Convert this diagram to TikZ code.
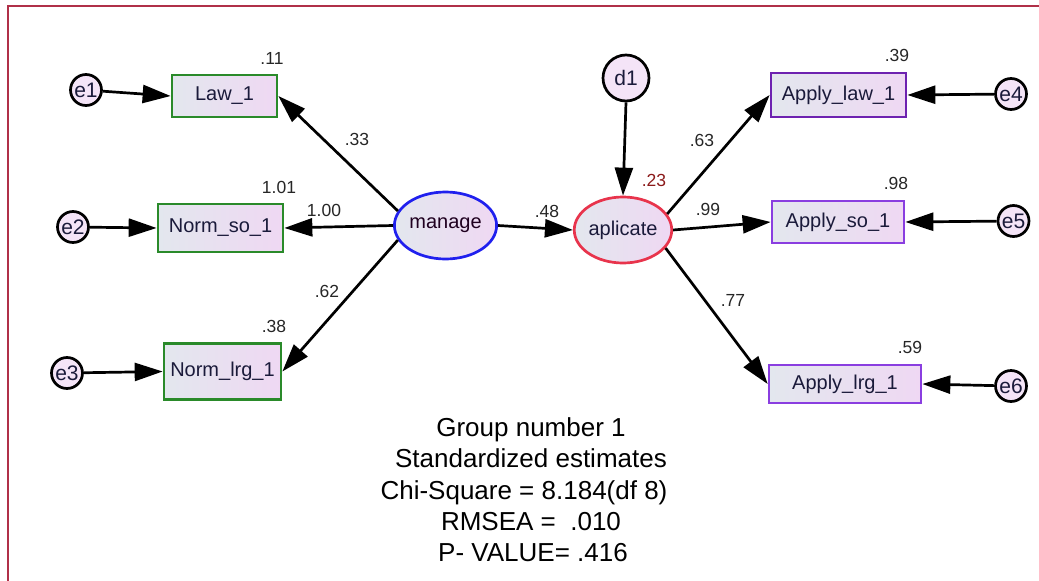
\documentclass[tikz,border=0pt]{standalone}
\usepackage{fontspec}
\setmainfont{Liberation Sans}
\usetikzlibrary{arrows.meta,positioning,shapes.geometric,shadings}
\definecolor{framecol}{HTML}{B03048}
\definecolor{obsgreen}{HTML}{2A8A2A}
\definecolor{latblue}{HTML}{2020EE}
\definecolor{latred}{HTML}{E8344C}
\definecolor{obspurple}{HTML}{6E22B0}
\definecolor{obsviolet}{HTML}{8A3EE0}
\definecolor{fillL}{HTML}{E3E7EE}
\definecolor{fillR}{HTML}{EFD8F3}
\definecolor{txtcol}{HTML}{1A1A3A}
\definecolor{rsqred}{HTML}{8B1A1A}
\tikzset{every picture/.style={line width=2.7pt}}
\tikzstyle{obs}=[rectangle,draw,left color=fillL,right color=fillR,text=txtcol,inner sep=0pt,font=\fontsize{20}{22}\selectfont]
\tikzstyle{lat}=[ellipse,draw,left color=fillL,right color=fillR,text=txtcol,inner sep=0pt,minimum width=90pt,minimum height=66pt,font=\fontsize{20}{22}\selectfont]
\tikzstyle{err}=[circle,draw=black,fill=fillR!70!white,text=txtcol,inner sep=0pt,minimum size=31pt,font=\fontsize{21}{22}\selectfont]
\tikzstyle{est}=[inner sep=0pt,text=black!85,font=\fontsize{17.5}{18}\selectfont]
\tikzstyle{fitline}=[inner sep=0pt,anchor=base,font=\fontsize{26}{31}\selectfont]

\begin{document}
\begin{tikzpicture}[x=1pt,y=-1pt]
\useasboundingbox (0,0) rectangle (1039,581);
\draw[framecol,line width=1.5pt] (8,581) -- (8,6) -- (1039,6);
% left side
\node[obs,draw=obsgreen,minimum width=105pt,minimum height=42pt] (law) at (224.5,96) {Law\_1};
\node[obs,draw=obsgreen,minimum width=125pt,minimum height=48pt] (normso) at (220.5,228) {Norm\_so\_1};
\node[obs,draw=obsgreen,minimum width=117pt,minimum height=56pt] (normlrg) at (222.5,371.5) {Norm\_lrg\_1};
\node[err] (e1) at (86,90) {e1};
\node[err] (e2) at (73,227) {e2};
\node[err] (e3) at (67,373) {e3};
\node[lat,draw=latblue,text=black!60!violet!60!black,minimum width=91pt,minimum height=67pt] (manage) at (445.5,225.5) {manage};
% right side
\node[lat,draw=latred] (aplicate) at (623,230) {aplicate};
\node[err,minimum size=46pt] (d1) at (626,78) {d1};
\node[obs,draw=obspurple,minimum width=135pt,minimum height=44pt] (applylaw) at (838.5,95) {Apply\_law\_1};
\node[obs,draw=obsviolet,minimum width=132pt,minimum height=42pt] (applyso) at (838,222) {Apply\_so\_1};
\node[obs,draw=obsviolet,minimum width=152pt,minimum height=38pt] (applylrg) at (845,384) {Apply\_lrg\_1};
\node[err] (e4) at (1011,94) {e4};
\node[err] (e5) at (1013.5,221) {e5};
\node[err] (e6) at (1011,386) {e6};
% estimates
\node[est] (r1) at (272,58) {.11};
\node[est] (r2) at (279,187) {1.01};
\node[est] (r3) at (274,326) {.38};
\node[est] (w1) at (357,139) {.33};
\node[est] (w2) at (324,210) {1.00};
\node[est] (w3) at (327,291) {.62};
\node[est] (b1) at (547,211) {.48};
\node[est,text=rsqred] (r0) at (654,180) {.23};
\node[est] (w4) at (702,140) {.63};
\node[est] (w5) at (708,209) {.99};
\node[est] (w6) at (733,300) {.77};
\node[est] (r4) at (897,55) {.39};
\node[est] (r5) at (896,183) {.98};
\node[est] (r6) at (910,347) {.59};
\path[-{Triangle[length=28pt,width=18pt]}]
(e1) edge (law.west)
(e2) edge (normso.west)
(e3) edge (normlrg.west)
(manage.163) edge (law.east)
(manage.west) edge (normso.east)
(manage.197) edge (normlrg.east)
(manage.east) edge (aplicate.west)
(d1.south) edge (aplicate.north)
(aplicate.20) edge (applylaw.west)
(aplicate.east) edge (applyso.west)
(aplicate.-23) edge (applylrg.west)
(e4) edge (applylaw.east)
(e5) edge (applyso.east)
(e6) edge (applylrg.east);
% fit summary
\node[fitline] (grp) at (531,436) {Group number 1};
\node[fitline] (std) at (531,467) {Standardized estimates};
\node[fitline] (chi) at (524,499) {Chi-Square = 8.184(df 8)};
\node[fitline] (rmsea) at (531,530) {RMSEA =\ \ .010};
\node[fitline] (pval) at (533,561) {P- VALUE= .416};
\end{tikzpicture}
\end{document}
